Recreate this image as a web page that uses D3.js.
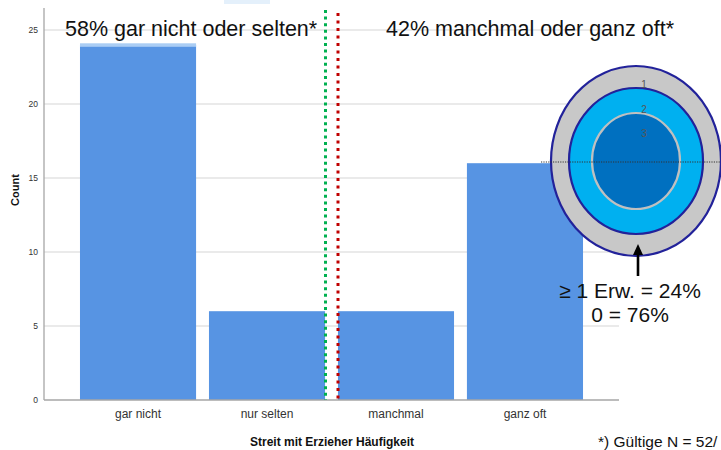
<!DOCTYPE html>
<html>
<head>
<meta charset="utf-8">
<script src="https://cdn.jsdelivr.net/npm/d3@7"></script>
<style>
  html, body { margin: 0; padding: 0; background: #fff; }
  svg { display: block; }
  .narrow { font-family: "Liberation Sans Narrow", "Arial Narrow", "Liberation Sans", Arial, sans-serif; }
  .arial { font-family: "Liberation Sans", Arial, sans-serif; }
</style>
</head>
<body>
<svg id="chart" width="721" height="450"></svg>
<script>
// Haeufigkeit von Streit mit Erziehern (Anzahl)
const categories = ["gar nicht", "nur selten", "manchmal", "ganz oft"];
const counts = [24, 6, 6, 16];
const yTicks = [0, 5, 10, 15, 20, 25];
const groupLabels = ["58% gar nicht oder selten*", "42% manchmal oder ganz oft*"];
const ringLabels = ["1", "2", "3"];
const ringShares = ["\u2265 1 Erw. = 24%", "0 = 76%"];
const footnote = "*) G\u00fcltige N = 52/";

const svg = d3.select("#chart");
const plotLeft = 44, plotRight = 619, plotTop = 8, plotBottom = 400;

const x = d3.scaleBand().domain(categories).range([plotLeft, plotRight])
  .paddingInner(0.1).paddingOuter(0.279);
const y = d3.scaleLinear().domain([0, 25]).range([plotBottom, 30]);

// small light patch at the top edge
svg.append("rect").attr("x", 224).attr("y", 0).attr("width", 46).attr("height", 4)
  .attr("fill", "#e4f0fb");

// gridlines
svg.append("g").selectAll("line").data(yTicks.filter(d => d > 0)).join("line")
  .attr("x1", plotLeft).attr("x2", plotRight)
  .attr("y1", d => y(d)).attr("y2", d => y(d))
  .attr("stroke", "#d6d6d6").attr("stroke-width", 1.2);

// bars
svg.append("g").selectAll("rect").data(counts).join("rect")
  .attr("x", (d, i) => x(categories[i]))
  .attr("width", x.bandwidth())
  .attr("y", d => y(d))
  .attr("height", d => plotBottom - y(d))
  .attr("fill", "#5794e3");

// light cap on the tallest bar
svg.append("rect")
  .attr("x", x(categories[0])).attr("width", x.bandwidth())
  .attr("y", y(counts[0]) - 1.5).attr("height", 3.5)
  .attr("fill", "#aacdf4");

// axes
const yAxis = d3.axisLeft(y).tickValues(yTicks).tickSize(0).tickPadding(6);
const gy = svg.append("g").attr("transform", `translate(${plotLeft},0)`).call(yAxis);
gy.select(".domain").remove();
gy.selectAll("text").attr("class", "narrow").attr("font-size", 8.5).attr("fill", "#333");
svg.append("line").attr("x1", plotLeft).attr("x2", plotLeft).attr("y1", plotTop).attr("y2", plotBottom)
  .attr("stroke", "#a6a6a6").attr("stroke-width", 1.3);

const xAxis = d3.axisBottom(x).tickSize(0).tickPadding(9);
const gx = svg.append("g").attr("transform", `translate(0,${plotBottom})`).call(xAxis);
gx.select(".domain").remove();
gx.selectAll("text").attr("class", "narrow").attr("font-size", 12).attr("fill", "#333");
svg.append("line").attr("x1", plotLeft).attr("x2", plotRight).attr("y1", plotBottom).attr("y2", plotBottom)
  .attr("stroke", "#a6a6a6").attr("stroke-width", 1.3);

// axis titles
svg.append("text").attr("class", "arial")
  .attr("transform", `translate(19,${(plotTop + plotBottom) / 2 - 14}) rotate(-90)`)
  .attr("text-anchor", "middle").attr("font-size", 11).attr("font-weight", "bold")
  .attr("fill", "#111").text("Count");
svg.append("text").attr("class", "narrow")
  .attr("x", 332).attr("y", 446).attr("text-anchor", "middle")
  .attr("font-size", 12).attr("font-weight", "bold").attr("fill", "#111")
  .text("Streit mit Erzieher H\u00e4ufigkeit");

// divider lines between the two groups
const mid = (x(categories[1]) + x.bandwidth() + x(categories[2])) / 2;
svg.append("line").attr("x1", mid - 6).attr("x2", mid - 6).attr("y1", 10).attr("y2", plotBottom)
  .attr("stroke", "#00b050").attr("stroke-width", 3).attr("stroke-dasharray", "3 3.6");
svg.append("line").attr("x1", mid + 6.5).attr("x2", mid + 6.5).attr("y1", 13).attr("y2", plotBottom)
  .attr("stroke", "#c00000").attr("stroke-width", 3).attr("stroke-dasharray", "3 4.5");

// group labels
svg.append("text").attr("class", "arial").attr("x", 65).attr("y", 36)
  .attr("font-size", 21.5).attr("fill", "#111").text(groupLabels[0]);
svg.append("text").attr("class", "arial").attr("x", 386).attr("y", 36)
  .attr("font-size", 21.5).attr("fill", "#111").text(groupLabels[1]);

// concentric ring diagram
const cx = 636, cy = 161;
svg.append("ellipse").attr("cx", cx).attr("cy", cy).attr("rx", 85).attr("ry", 95)
  .attr("fill", "#c8c8c8").attr("stroke", "#22229a").attr("stroke-width", 2.2);
svg.append("ellipse").attr("cx", cx).attr("cy", cy).attr("rx", 67).attr("ry", 73)
  .attr("fill", "#00b0f0").attr("stroke", "#22229a").attr("stroke-width", 2.2);
svg.append("ellipse").attr("cx", cx).attr("cy", cy).attr("rx", 44).attr("ry", 48)
  .attr("fill", "#0070c0").attr("stroke", "#c0c0c0").attr("stroke-width", 2.2);

svg.append("g").selectAll("text").data(ringLabels).join("text")
  .attr("class", "arial")
  .attr("x", 644).attr("y", (d, i) => 88 + i * 24.5)
  .attr("text-anchor", "middle").attr("font-size", 10).attr("fill", "#555")
  .text(d => d);

// dotted reference line through the rings
svg.append("line").attr("x1", 541).attr("x2", 721).attr("y1", 162).attr("y2", 162)
  .attr("stroke", "#333").attr("stroke-width", 1).attr("stroke-dasharray", "1.2 1.2");

// arrow
svg.append("line").attr("x1", 638).attr("x2", 638).attr("y1", 276).attr("y2", 252)
  .attr("stroke", "#000").attr("stroke-width", 2.6);
svg.append("path").attr("d", "M638,244 L633,255 L643,255 Z").attr("fill", "#000");

svg.append("g").selectAll("text").data(ringShares).join("text")
  .attr("class", "arial")
  .attr("x", 630).attr("y", (d, i) => 298 + i * 24)
  .attr("text-anchor", "middle").attr("font-size", 21).attr("fill", "#111")
  .text(d => d);

// footnote
svg.append("text").attr("class", "arial").attr("x", 598).attr("y", 447)
  .attr("font-size", 15.5).attr("fill", "#111").text(footnote);
</script>
</body>
</html>
